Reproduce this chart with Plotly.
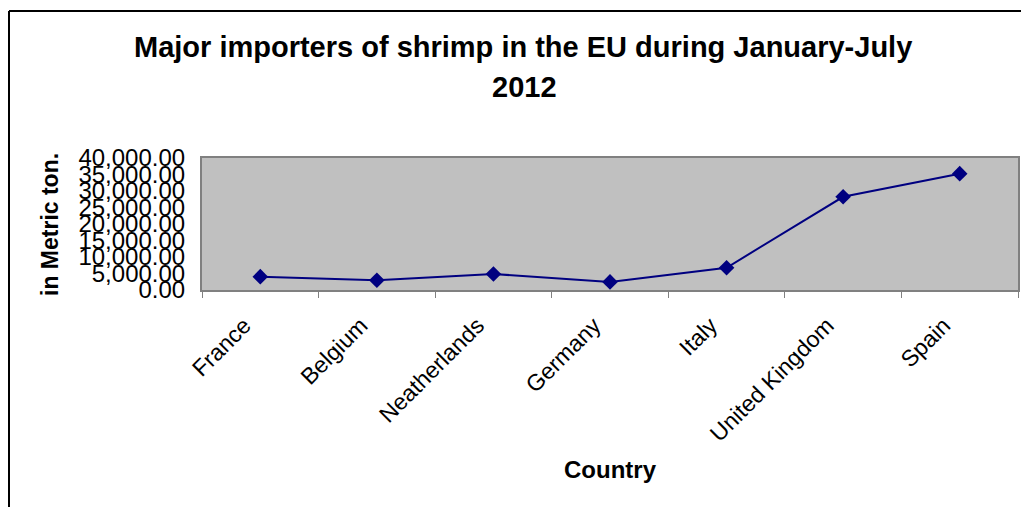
import plotly.graph_objects as go

countries = ["France", "Belgium", "Neatherlands", "Germany", "Italy", "United Kingdom", "Spain"]
imports_t = [4050, 2950, 4850, 2450, 6750, 28250, 35250]
y_ticks = [0, 5000, 10000, 15000, 20000, 25000, 30000, 35000, 40000]

W, H = 1021, 507
L, R, T, B = 202, 1018, 158, 290
pw, ph = R - L, B - T

def px_x(x):
    return (x - L) / pw

def px_y(y):
    return (B - y) / ph

fig = go.Figure()
fig.add_trace(go.Scatter(
    x=countries, y=imports_t, mode="lines+markers",
    line=dict(color="#000080", width=2),
    marker=dict(symbol="diamond", size=12, color="#000080"),
    showlegend=False, hoverinfo="skip",
))

font = "Arial, Liberation Sans, sans-serif"
fig.update_layout(
    width=W, height=H,
    margin=dict(l=L, r=W - R, t=T, b=H - B, autoexpand=False),
    paper_bgcolor="white", plot_bgcolor="#C0C0C0",
    font=dict(family=font, color="black"),
    xaxis=dict(
        showgrid=False, zeroline=False, tickangle=-45,
        tickson="boundaries", ticks="outside", ticklen=6, tickcolor="#808080",
        tickfont=dict(size=23, family=font),
        ticklabelshift=-16, ticklabelstandoff=11,
        showline=True, linecolor="#808080", linewidth=2, mirror=True,
        range=[-0.5, 6.5],
    ),
    yaxis=dict(
        range=[0, 40000], tickvals=y_ticks, tickformat=",.2f",
        showgrid=False, zeroline=False, ticks="",
        tickfont=dict(size=24, family=font), ticklabelstandoff=10,
        showline=True, linecolor="#808080", linewidth=2, mirror=True,
    ),
    annotations=[
        dict(text="<b>Major importers of shrimp in the EU during January-July</b>",
             x=px_x(523), y=px_y(47), xref="paper", yref="paper", showarrow=False,
             font=dict(size=29, family=font), xanchor="center", yanchor="middle"),
        dict(text="<b>2012</b>",
             x=px_x(524), y=px_y(87), xref="paper", yref="paper", showarrow=False,
             font=dict(size=29, family=font), xanchor="center", yanchor="middle"),
        dict(text="<b>in Metric ton.</b>", textangle=-90,
             x=px_x(50), y=px_y(225), xref="paper", yref="paper", showarrow=False,
             font=dict(size=23, family=font), xanchor="center", yanchor="middle"),
        dict(text="<b>Country</b>",
             x=px_x(610), y=px_y(470), xref="paper", yref="paper", showarrow=False,
             font=dict(size=24, family=font), xanchor="center", yanchor="middle"),
    ],
    shapes=[
        dict(type="line", xref="paper", yref="paper",
             x0=px_x(9), x1=px_x(9), y0=px_y(11), y1=px_y(520),
             line=dict(color="black", width=2)),
        dict(type="line", xref="paper", yref="paper",
             x0=px_x(9), x1=px_x(1030), y0=px_y(11), y1=px_y(11),
             line=dict(color="black", width=2)),
    ],
)

fig.write_html("out.html")
